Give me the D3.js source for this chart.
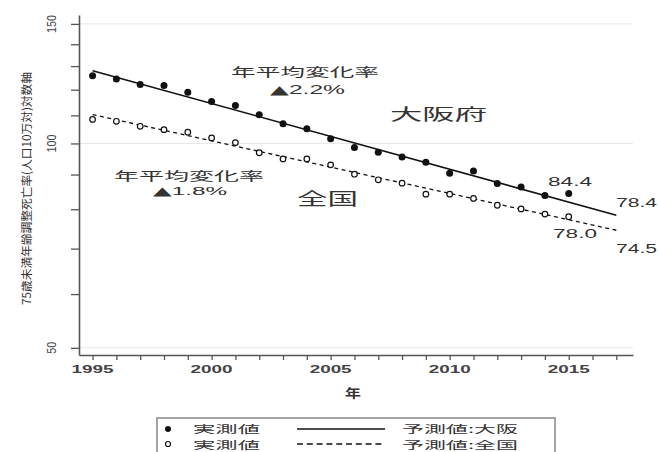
<!DOCTYPE html>
<html><head><meta charset="utf-8">
<script src="https://cdn.jsdelivr.net/npm/d3@7/dist/d3.min.js"></script>
<style>body{margin:0;background:#fff;} svg{display:block;}</style>
</head><body>
<svg id="c" width="658" height="452"></svg>
<script>
// ---- data ----
const years = [1995,1996,1997,1998,1999,2000,2001,2002,2003,2004,2005,2006,2007,2008,2009,2010,2011,2012,2013,2014,2015];
const osakaObs = [125.8,124.4,122.1,121.7,119.0,115.3,113.7,110.2,106.9,105.1,101.6,98.6,97.1,95.5,93.8,90.4,91.1,87.3,86.3,83.8,84.4];
const nationObs = [108.5,107.8,106.0,104.8,103.9,101.9,100.3,96.9,94.9,94.9,93.0,90.1,88.4,87.4,84.2,84.2,83.0,81.1,80.1,78.7,78.0];
const predYears = [1995, 2017];
const osakaPred = [128.0, 78.4];
const nationPred = [110.3, 74.5];
const xTickYears = [1995,1996,1997,1998,1999,2000,2001,2002,2003,2004,2005,2006,2007,2008,2009,2010,2011,2012,2013,2014,2015,2016,2017];
const xLabelYears = [1995,2000,2005,2010,2015];
const yTicks = [50,60,70,80,90,100,110,120,130,140,150];
const yLabels = [50,100,150];
const yTitle = "75歳未満年齢調整死亡率(人口10万対)対数軸";
const xTitle = "年";
const legendObs = "実測値";
const legendOsaka = "予測値:大阪";
const legendNation = "予測値:全国";
const rateTitle = "年平均変化率";
const rateOsaka = "2.2%";
const rateNation = "1.8%";

// ---- drawing ----
const svg = d3.select("#c");
const FONT = "'Noto Sans CJK JP','Noto Sans',sans-serif";
const NUMFONT = "'Liberation Sans','DejaVu Sans',sans-serif";
const TXT = "#333";
const x = d3.scaleLinear().domain([1994.43, 2017.7]).range([79, 633]);
const y = d3.scaleLog().domain([48.8, 154.6]).range([355, 15]);

function label(t, cx, cy, size, len, opts={}) {
  const el = svg.append("text")
    .attr("x", cx).attr("y", cy)
    .attr("text-anchor", opts.anchor || "middle")
    .attr("dominant-baseline", "central")
    .attr("font-family", opts.font || FONT)
    .attr("font-size", size)
    .attr("font-weight", opts.weight || "normal")
    .attr("fill", opts.fill || TXT)
    .attr("textLength", len)
    .attr("lengthAdjust", "spacingAndGlyphs");
  if (opts.tri) {
    el.append("tspan").attr("font-family", "'DejaVu Sans'").text("▲");
    el.append("tspan").text(t);
  } else {
    el.text(t);
  }
  if (opts.rotate) el.attr("transform", `rotate(${opts.rotate},${cx},${cy})`);
  return el;
}

// gridlines
svg.append("g").selectAll("line").data(yLabels).join("line")
  .attr("x1", x.range()[0]).attr("x2", x.range()[1])
  .attr("y1", d => y(d)).attr("y2", d => y(d))
  .attr("stroke", "#e2eaec").attr("stroke-width", 1);

// axes
const gy = svg.append("g").attr("transform", `translate(${x.range()[0]},0)`)
  .call(d3.axisLeft(y).tickValues(yTicks).tickSize(8).tickSizeOuter(0).tickFormat(""));
const gx = svg.append("g").attr("transform", `translate(0,${y.range()[0]})`)
  .call(d3.axisBottom(x).tickValues(xTickYears).tickSize(5).tickSizeOuter(0).tickFormat(""));
[gy, gx].forEach(g => {
  g.selectAll("path").attr("stroke", "#555").attr("stroke-width", 1.6);
  g.selectAll("line").attr("stroke", "#555").attr("stroke-width", 1.3);
});

// tick labels
yLabels.forEach(v => label(String(v), 52, y(v), 12, v >= 100 ? 18 : 12, {rotate: -90, font: NUMFONT, fill: "#444"}));
xLabelYears.forEach(v => label(String(v), x(v), 369, 11.5, 42, {weight: "bold", fill: "#444", font: NUMFONT}));
label(xTitle, 353, 392, 12, 16, {weight: "bold"});
label(yTitle, 26, 188.5, 11.5, 233, {rotate: -90});

// prediction lines
const line = d3.line().x(d => x(d[0])).y(d => y(d[1]));
svg.append("path").datum(predYears.map((yr, i) => [yr, osakaPred[i]]))
  .attr("d", line).attr("fill", "none").attr("stroke", "#111").attr("stroke-width", 1.6);
svg.append("path").datum(predYears.map((yr, i) => [yr, nationPred[i]]))
  .attr("d", line).attr("fill", "none").attr("stroke", "#111").attr("stroke-width", 1.3)
  .attr("stroke-dasharray", "4,3.5");

// observed points
svg.append("g").selectAll("circle").data(years.map((yr, i) => [yr, nationObs[i]])).join("circle")
  .attr("cx", d => x(d[0])).attr("cy", d => y(d[1])).attr("r", 2.8)
  .attr("fill", "#fff").attr("stroke", "#111").attr("stroke-width", 1.2);
svg.append("g").selectAll("circle").data(years.map((yr, i) => [yr, osakaObs[i]])).join("circle")
  .attr("cx", d => x(d[0])).attr("cy", d => y(d[1])).attr("r", 3.5)
  .attr("fill", "#111");

// annotations
label(rateTitle, 305, 71, 12.5, 148);
label(rateOsaka, 307.5, 89.5, 12, 75, {font: NUMFONT, tri: true});
label(rateTitle, 189, 175.3, 12, 150);
label(rateNation, 190, 191.3, 11.5, 74, {font: NUMFONT, tri: true});
label("大阪府", 438.5, 113.3, 15.5, 97);
label("全国", 327.5, 197.5, 17, 61);
label(String(osakaObs[osakaObs.length - 1].toFixed(1)), 570, 181.7, 12.5, 44, {font: NUMFONT});
label(String(osakaPred[1].toFixed(1)), 636.5, 203.3, 12.5, 41, {font: NUMFONT});
label(String(nationObs[nationObs.length - 1].toFixed(1)), 575, 234, 12.5, 44, {font: NUMFONT});
label(String(nationPred[1].toFixed(1)), 636.5, 249, 12.5, 41, {font: NUMFONT});

// legend
svg.append("rect").attr("x", 157).attr("y", 418).attr("width", 398).attr("height", 50)
  .attr("fill", "none").attr("stroke", "#888").attr("stroke-width", 1.5);
svg.append("circle").attr("cx", 168).attr("cy", 429).attr("r", 3).attr("fill", "#111");
svg.append("circle").attr("cx", 168).attr("cy", 444).attr("r", 2.5)
  .attr("fill", "#fff").attr("stroke", "#111").attr("stroke-width", 1.2);
label(legendObs, 226.5, 428.6, 10.6, 67);
label(legendObs, 226.5, 444.6, 10.6, 67);
svg.append("line").attr("x1", 297).attr("x2", 385).attr("y1", 429).attr("y2", 429)
  .attr("stroke", "#111").attr("stroke-width", 1.5);
svg.append("line").attr("x1", 297).attr("x2", 385).attr("y1", 444).attr("y2", 444)
  .attr("stroke", "#111").attr("stroke-width", 1.5).attr("stroke-dasharray", "6,3.8");
label(legendOsaka, 460, 428.6, 10.6, 116);
label(legendNation, 460, 444.6, 10.6, 116);
</script>
</body></html>
